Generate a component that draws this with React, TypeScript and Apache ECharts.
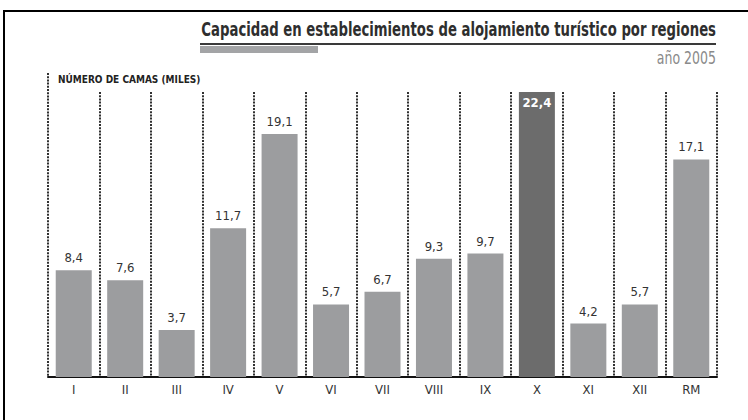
import React, { useEffect, useRef } from "react";
import * as echarts from "echarts";

const categories = ["I", "II", "III", "IV", "V", "VI", "VII", "VIII", "IX", "X", "XI", "XII", "RM"];
const values = [8.4, 7.6, 3.7, 11.7, 19.1, 5.7, 6.7, 9.3, 9.7, 22.4, 4.2, 5.7, 17.1];
const highlightCategory = "X";

const titleText = "Capacidad en establecimientos de alojamiento turístico por regiones";
const subtitleText = "año 2005";
const unitText = "NÚMERO DE CAMAS (MILES)";

const NARROW = '"Liberation Sans Narrow", "DejaVu Sans Condensed", "Roboto Condensed", "Liberation Sans", sans-serif';

export default function App() {
  const ref = useRef<HTMLDivElement>(null);
  useEffect(() => {
    document.body.style.margin = "0";
    const chart = echarts.init(ref.current!, null, { renderer: "svg" });
    const fmt = (v: number) => v.toFixed(1).replace(".", ",");
    chart.setOption({
      animation: false,
      backgroundColor: "#ffffff",
      grid: { left: 48, right: 31, top: 92, bottom: 43 },
      xAxis: {
        type: "category",
        data: categories,
        axisLine: { show: true, lineStyle: { color: "#111", width: 2 } },
        axisTick: { show: false },
        axisLabel: { fontFamily: NARROW, fontSize: 13, color: "#333", margin: 6 },
        splitLine: {
          show: true,
          showMinLine: false,
          lineStyle: { color: "#1a1a1a", width: 1.8, type: [2, 1.2] },
        },
      },
      yAxis: {
        type: "value",
        min: 0,
        max: 22.4,
        show: false,
        splitLine: { show: false },
      },
      graphic: [
        { type: "rect", shape: { x: 4, y: 10, width: 744, height: 2 }, style: { fill: "#000" } },
        { type: "rect", shape: { x: 3, y: 10, width: 2, height: 410 }, style: { fill: "#000" } },
        {
          type: "text",
          x: 716,
          y: 29,
          scaleX: 0.775,
          style: {
            text: titleText,
            fontFamily: NARROW,
            fontSize: 19,
            fontWeight: "bold",
            fill: "#2e2e2e",
            align: "right",
            verticalAlign: "middle",
          },
        },
        { type: "rect", shape: { x: 200, y: 43, width: 516, height: 2 }, style: { fill: "#3a3a3a" } },
        { type: "rect", shape: { x: 200, y: 46, width: 118, height: 7 }, style: { fill: "#a3a4a6" } },
        {
          type: "text",
          x: 716,
          y: 59,
          scaleX: 0.82,
          style: {
            text: subtitleText,
            fontFamily: NARROW,
            fontSize: 17,
            fill: "#8a8a8a",
            align: "right",
            verticalAlign: "middle",
          },
        },
        {
          type: "line",
          shape: { x1: 48, y1: 73, x2: 48, y2: 377 },
          style: { stroke: "#1a1a1a", lineWidth: 1.8, lineDash: [2, 1.2] },
        },
        {
          type: "text",
          x: 58,
          y: 79,
          style: {
            text: unitText,
            fontFamily: NARROW,
            fontSize: 10,
            fontWeight: "bold",
            fill: "#222",
            verticalAlign: "middle",
          },
        },
      ],
      series: [
        {
          type: "bar",
          barWidth: 36,
          data: values.map((v, i) =>
            categories[i] === highlightCategory
              ? {
                  value: v,
                  itemStyle: { color: "#6c6c6c" },
                  label: { position: "insideTop", distance: 4, color: "#fff", fontWeight: "bold" },
                }
              : { value: v }
          ),
          itemStyle: { color: "#9c9d9f" },
          label: {
            show: true,
            position: "top",
            distance: 6,
            fontFamily: NARROW,
            fontSize: 13,
            color: "#333",
            formatter: (p: any) => fmt(p.value),
          },
        },
      ],
    });
    return () => chart.dispose();
  }, []);
  return <div ref={ref} style={{ width: 748, height: 420 }} />;
}
